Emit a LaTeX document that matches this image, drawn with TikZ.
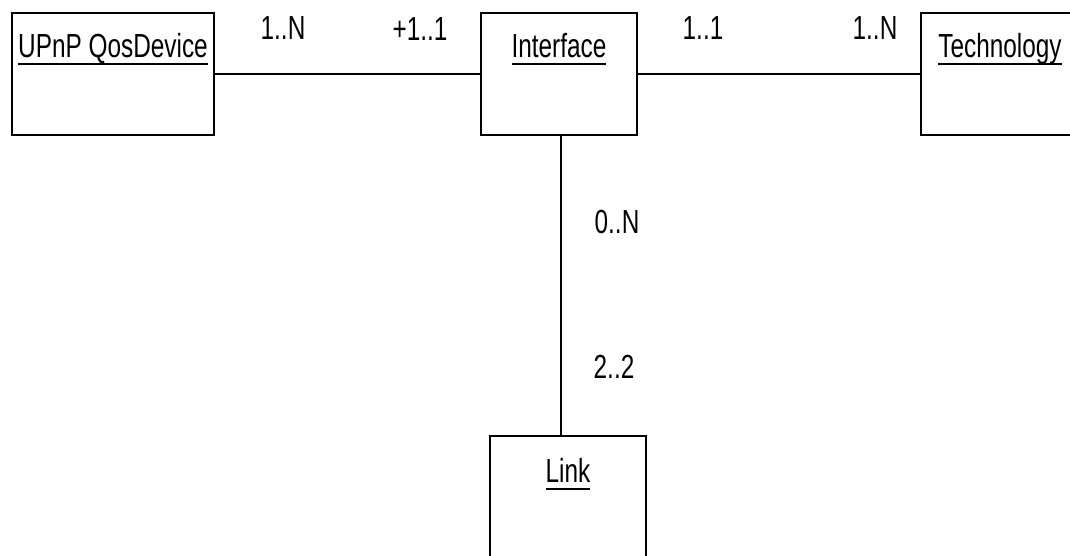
\documentclass[tikz,border=0pt]{standalone}
\usepackage{fontspec}
\setmainfont{Liberation Sans}[FakeStretch=0.73]
\usetikzlibrary{positioning}

\newcommand{\clsname}[1]{\setbox0=\hbox{#1}\rlap{\rule[-4.6pt]{\wd0}{1.1pt}}\box0}

\begin{document}
\begin{tikzpicture}[
    x=0.02cm, y=-0.02cm,
    classbox/.style={rectangle, draw, line width=1.1pt, minimum height=2.44cm},
    classname/.style={font=\fontsize{19}{22}\selectfont, anchor=base, inner sep=0pt},
    mult/.style={font=\fontsize{19}{22}\selectfont, inner sep=0pt},
    assoc/.style={line width=1.1pt}
]
\path[use as bounding box, clip] (0,0) rectangle (1070,555);
\fill[white] (0,0) rectangle (1070,555);

\node[classbox, minimum width=4.04cm] (dev) at (113,74) {};
\node[classbox, minimum width=3.12cm] (iface) at (559,74) {};
\node[classbox, minimum width=3.4cm] (tech) at (1006,74) {};
\node[classbox, minimum width=3.12cm, minimum height=2.48cm] (link) at (568,498) {};

\node[classname] (devname) at ([yshift=-0.9cm]dev.north) {\clsname{UPnP QosDevice}};
\node[classname] (ifacename) at ([yshift=-0.9cm]iface.north) {\clsname{Interface}};
\node[classname] (techname) at ([xshift=-0.12cm, yshift=-0.9cm]tech.north) {\clsname{Technology}};
\node[classname] (linkname) at ([yshift=-0.94cm]link.north) {\clsname{Link}};

\draw[assoc] (dev.east) -- (iface.west);
\draw[assoc] (iface.east) -- (tech.west);
\draw[assoc] ([xshift=0.04cm]iface.south) -- ([xshift=0.04cm]iface.south |- link.north);

\node[mult] (devmult) at (283,28) {1..N};
\node[mult] (ifacemultl) at (420,29) {+1..1};
\node[mult] (ifacemultr) at (703,28) {1..1};
\node[mult] (techmult) at (875,28) {1..N};
\node[mult] (ifacemultb) at (617,222) {0..N};
\node[mult] (linkmult) at (614,367) {2..2};

\end{tikzpicture}
\end{document}
